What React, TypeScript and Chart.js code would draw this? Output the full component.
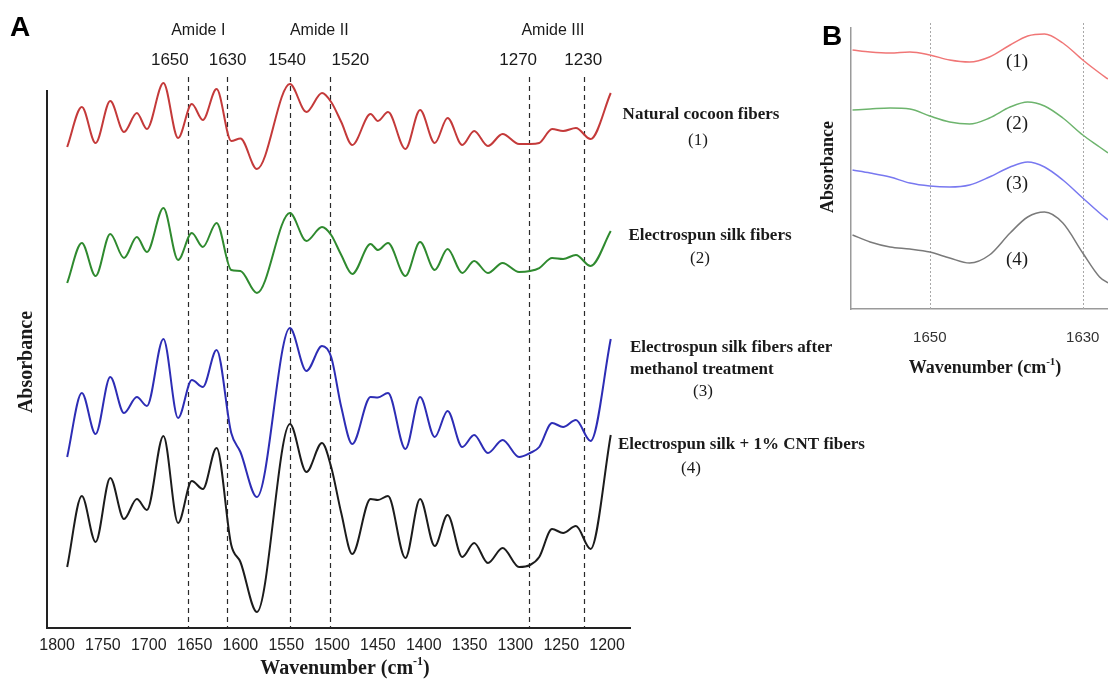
import React, { useEffect, useRef } from "react";
import { Chart, registerables } from "chart.js";

Chart.register(...registerables);

// ---------------- Panel A data ----------------
const wavenumbersA = [1789, 1773, 1758, 1742, 1727, 1713, 1702, 1684, 1668, 1653, 1641, 1626, 1610, 1600, 1582, 1546, 1528, 1511, 1501, 1490, 1478, 1458, 1450, 1439, 1420, 1404, 1388, 1374, 1358, 1345, 1330, 1314, 1296, 1284, 1274, 1260, 1248, 1234, 1218, 1196];
const naturalCocoon = [48.1, 52.1, 48.5, 52.7, 49.6, 51.5, 49.9, 54.5, 49.0, 52.4, 50.8, 53.9, 48.7, 48.95, 45.9, 54.4, 51.6, 53.5, 52.6, 50.6, 48.3, 51.4, 50.7, 51.6, 47.9, 51.8, 48.5, 51.0, 48.3, 49.7, 48.2, 49.4, 48.4, 48.4, 48.5, 49.9, 49.7, 50.0, 48.9, 53.5];
const electrospun = [34.5, 38.5, 35.2, 39.4, 37.0, 39.1, 37.6, 42.0, 36.8, 39.5, 38.1, 40.5, 35.8, 35.7, 33.5, 41.5, 38.7, 40.1, 39.3, 37.3, 35.4, 38.4, 37.8, 38.5, 35.2, 38.6, 35.8, 37.9, 35.5, 36.7, 35.5, 36.5, 35.6, 35.7, 36.0, 37.0, 36.9, 37.3, 36.2, 39.7];
const methanolTreated = [17.1, 23.5, 19.4, 25.1, 21.5, 23.1, 22.2, 28.9, 21.0, 24.8, 24.1, 27.8, 19.5, 17.6, 13.1, 30.0, 25.7, 28.2, 27.1, 22.1, 18.4, 23.1, 23.05, 23.5, 17.9, 23.1, 19.1, 21.7, 18.1, 19.3, 17.5, 18.8, 17.1, 17.5, 18.1, 20.5, 20.1, 20.8, 18.7, 28.9];
const cntFibers = [6.1, 13.2, 8.6, 15.0, 10.9, 12.9, 11.8, 19.2, 10.5, 14.7, 13.9, 18.0, 8.3, 6.6, 1.6, 20.4, 15.6, 18.5, 16.1, 11.5, 7.4, 12.9, 12.8, 13.2, 7.0, 12.9, 8.2, 11.3, 7.1, 8.5, 6.5, 8.0, 6.1, 6.3, 7.1, 9.9, 9.5, 10.2, 7.9, 19.3];
const xTicksA = [1800, 1750, 1700, 1650, 1600, 1550, 1500, 1450, 1400, 1350, 1300, 1250, 1200];

// dashed marker lines (drawn position on the axis) and their labels
const markerPositions = [1657, 1615, 1546, 1502, 1285, 1225];
const markerLabels = ["1650", "1630", "1540", "1520", "1270", "1230"];
const markerLabelAt = [1677, 1614, 1549, 1480, 1297, 1226];
const amideLabels = ["Amide I", "Amide II", "Amide III"];
const amideLabelAt = [1646, 1514, 1259];

const legendLines = [
  { text: "Natural cocoon fibers", x: 701, y: 115, align: "center", bold: true },
  { text: "(1)", x: 698, y: 141, align: "center", bold: false },
  { text: "Electrospun silk fibers", x: 710, y: 236, align: "center", bold: true },
  { text: "(2)", x: 700, y: 259, align: "center", bold: false },
  { text: "Electrospun silk fibers after", x: 630, y: 348, align: "left", bold: true },
  { text: "methanol treatment", x: 630, y: 370, align: "left", bold: true },
  { text: "(3)", x: 703, y: 392, align: "center", bold: false },
  { text: "Electrospun silk + 1% CNT fibers", x: 618, y: 445, align: "left", bold: true },
  { text: "(4)", x: 691, y: 469, align: "center", bold: false },
];

// ---------------- Panel B data ----------------
const wavenumbersB = [1660.1, 1657.8, 1655.2, 1652.6, 1650.0, 1647.4, 1644.8, 1642.2, 1639.5, 1637.2, 1635.0, 1632.6, 1630.0, 1627.8, 1626.7];
const naturalCocoonB = [25.9, 25.7, 25.6, 25.7, 25.4, 24.9, 24.7, 25.2, 26.4, 27.3, 27.5, 26.6, 24.9, 23.6, 23.0];
const electrospunB = [19.9, 20.0, 20.1, 20.0, 19.3, 18.7, 18.5, 19.1, 20.2, 20.7, 20.3, 19.1, 17.4, 16.2, 15.6];
const methanolTreatedB = [13.9, 13.6, 13.2, 12.6, 12.3, 12.2, 12.4, 13.2, 14.2, 14.7, 14.2, 12.9, 11.1, 9.6, 8.9];
const cntFibersB = [7.4, 6.7, 6.2, 6.0, 5.7, 5.1, 4.6, 5.4, 7.6, 9.2, 9.7, 8.6, 5.6, 3.2, 2.6];
const xTicksB = [1650, 1630];
const seriesLabelsB = ["(1)", "(2)", "(3)", "(4)"];
const seriesLabelYB = [62, 124, 184, 260];

const SERIF = '"Liberation Serif", "Times New Roman", serif';
const SANS = '"Liberation Sans", Arial, sans-serif';
const INK = "#1a1a1a";

function txt(ctx: any, s: string, x: number, y: number, font: string, align = "center", color = INK) {
  ctx.font = font;
  ctx.fillStyle = color;
  ctx.textAlign = align;
  ctx.textBaseline = "middle";
  ctx.fillText(s, x, y);
}

function rotatedTxt(ctx: any, s: string, x: number, y: number, font: string) {
  ctx.save();
  ctx.translate(x, y);
  ctx.rotate(-Math.PI / 2);
  txt(ctx, s, 0, 0, font);
  ctx.restore();
}

function wavenumberTitle(ctx: any, cx: number, cy: number, size: number) {
  const main = `bold ${size}px ${SERIF}`;
  const sup = `bold ${Math.round(size * 0.6)}px ${SERIF}`;
  const p1 = "Wavenumber (cm";
  const p2 = "-1";
  const p3 = ")";
  ctx.save();
  ctx.fillStyle = INK;
  ctx.font = main;
  const w1 = ctx.measureText(p1).width;
  const w3 = ctx.measureText(p3).width;
  ctx.font = sup;
  const w2 = ctx.measureText(p2).width;
  let x = cx - (w1 + w2 + w3) / 2;
  const base = cy + size * 0.33;
  ctx.textAlign = "left";
  ctx.textBaseline = "alphabetic";
  ctx.font = main;
  ctx.fillText(p1, x, base);
  x += w1;
  ctx.font = sup;
  ctx.fillText(p2, x, base - size * 0.42);
  x += w2;
  ctx.font = main;
  ctx.fillText(p3, x, base);
  ctx.restore();
}

const pairs = (xs: number[], ys: number[]) => xs.map((x, i) => ({ x, y: ys[i] }));

const panelAPlugin = {
  id: "panelA",
  beforeDatasetsDraw(chart: any) {
    const { ctx, chartArea } = chart;
    const xs = chart.scales.x;
    ctx.save();
    ctx.strokeStyle = "#2a2a2a";
    ctx.lineWidth = 1.2;
    ctx.setLineDash([5, 4]);
    markerPositions.forEach((v) => {
      const px = Math.round(xs.getPixelForValue(v)) + 0.5;
      ctx.beginPath();
      ctx.moveTo(px, 77);
      ctx.lineTo(px, chartArea.bottom);
      ctx.stroke();
    });
    ctx.restore();
  },
  afterDraw(chart: any) {
    const { ctx } = chart;
    const xs = chart.scales.x;
    ctx.save();
    txt(ctx, "A", 20, 28, `bold 28px ${SANS}`, "center", "#000");
    amideLabels.forEach((s, i) => txt(ctx, s, xs.getPixelForValue(amideLabelAt[i]), 31, `16px ${SANS}`));
    markerLabels.forEach((s, i) => txt(ctx, s, xs.getPixelForValue(markerLabelAt[i]), 60, `17px ${SANS}`));
    rotatedTxt(ctx, "Absorbance", 27, 362, `bold 20px ${SERIF}`);
    wavenumberTitle(ctx, 345, 667, 20);
    legendLines.forEach((l) =>
      txt(ctx, l.text, l.x, l.y, `${l.bold ? "bold " : ""}17px ${SERIF}`, l.align)
    );
    ctx.restore();
  },
};

const panelBPlugin = {
  id: "panelB",
  beforeDatasetsDraw(chart: any) {
    const { ctx, chartArea } = chart;
    const xs = chart.scales.x;
    ctx.save();
    ctx.strokeStyle = "#a8a8a8";
    ctx.lineWidth = 1;
    ctx.setLineDash([2, 2]);
    xTicksB.forEach((v) => {
      const px = Math.round(xs.getPixelForValue(v)) + 0.5;
      ctx.beginPath();
      ctx.moveTo(px, 23);
      ctx.lineTo(px, chartArea.bottom);
      ctx.stroke();
    });
    ctx.restore();
  },
  afterDraw(chart: any) {
    const { ctx } = chart;
    const xs = chart.scales.x;
    ctx.save();
    txt(ctx, "B", 32, 37, `bold 28px ${SANS}`, "center", "#000");
    xTicksB.forEach((v) => txt(ctx, String(v), xs.getPixelForValue(v), 338, `15px ${SANS}`, "center", "#333"));
    rotatedTxt(ctx, "Absorbance", 28, 167, `bold 18px ${SERIF}`);
    wavenumberTitle(ctx, 185, 367, 18);
    seriesLabelsB.forEach((s, i) => txt(ctx, s, 217, seriesLabelYB[i], `19px ${SERIF}`));
    ctx.restore();
  },
};

export default function App() {
  const refA = useRef<HTMLCanvasElement>(null);
  const refB = useRef<HTMLCanvasElement>(null);

  useEffect(() => {
    const lineDs = (data: any, color: string, width: number) => ({
      data,
      borderColor: color,
      backgroundColor: color,
      borderWidth: width,
      pointRadius: 0,
      fill: false,
      cubicInterpolationMode: "monotone",
      clip: false,
    });

    const chartA = new Chart(refA.current as HTMLCanvasElement, {
      type: "line",
      data: {
        datasets: [
          lineDs(pairs(wavenumbersA, naturalCocoon), "#c43a3a", 2),
          lineDs(pairs(wavenumbersA, electrospun), "#2f8a2f", 2),
          lineDs(pairs(wavenumbersA, methanolTreated), "#2d2db5", 2),
          lineDs(pairs(wavenumbersA, cntFibers), "#1c1c1c", 2),
        ],
      } as any,
      options: {
        animation: false,
        responsive: false,
        maintainAspectRatio: false,
        layout: { padding: { top: 91, right: 478, left: 0, bottom: 0 } },
        plugins: { legend: { display: false }, tooltip: { enabled: false } },
        scales: {
          x: {
            type: "linear",
            reverse: true,
            min: 1175,
            max: 1811,
            grid: { display: false, drawTicks: false },
            border: { display: true, color: "#222", width: 2 },
            ticks: {
              font: { family: SANS, size: 16 },
              color: "#222",
              padding: 8,
              maxRotation: 0,
              autoSkip: false,
              callback: (v: any) => String(v),
            },
            afterBuildTicks: (s: any) => {
              s.ticks = xTicksA.map((v) => ({ value: v }));
            },
            afterFit: (s: any) => {
              s.height = 54;
            },
          },
          y: {
            type: "linear",
            min: 0,
            max: 53.7,
            grid: { display: false, drawTicks: false },
            border: { display: true, color: "#222", width: 2 },
            ticks: { display: false },
            afterFit: (s: any) => {
              s.width = 47;
            },
          },
        },
      } as any,
      plugins: [panelAPlugin],
    });

    const chartB = new Chart(refB.current as HTMLCanvasElement, {
      type: "line",
      data: {
        datasets: [
          lineDs(pairs(wavenumbersB, naturalCocoonB), "#f07676", 1.5),
          lineDs(pairs(wavenumbersB, electrospunB), "#6db46d", 1.5),
          lineDs(pairs(wavenumbersB, methanolTreatedB), "#7878f0", 1.5),
          lineDs(pairs(wavenumbersB, cntFibersB), "#7a7a7a", 1.5),
        ],
      } as any,
      options: {
        animation: false,
        responsive: false,
        maintainAspectRatio: false,
        layout: { padding: { top: 28, right: 0, left: 0, bottom: 0 } },
        plugins: { legend: { display: false }, tooltip: { enabled: false } },
        scales: {
          x: {
            type: "linear",
            reverse: true,
            min: 1626.7,
            max: 1660.3,
            grid: { display: false, drawTicks: false },
            border: { display: true, color: "#9a9a9a", width: 1.5 },
            ticks: { display: false },
            afterBuildTicks: (s: any) => {
              s.ticks = xTicksB.map((v) => ({ value: v }));
            },
            afterFit: (s: any) => {
              s.height = 81;
            },
          },
          y: {
            type: "linear",
            min: 0,
            max: 28.1,
            grid: { display: false, drawTicks: false },
            border: { display: true, color: "#9a9a9a", width: 1.5 },
            ticks: { display: false },
            afterFit: (s: any) => {
              s.width = 51;
            },
          },
        },
      } as any,
      plugins: [panelBPlugin],
    });

    return () => {
      chartA.destroy();
      chartB.destroy();
    };
  }, []);

  return (
    <div style={{ position: "fixed", left: 0, top: 0, width: 1108, height: 682, background: "#fff" }}>
      <canvas ref={refA} width={1108} height={682} style={{ position: "absolute", left: 0, top: 0 }} />
      <canvas ref={refB} width={308} height={390} style={{ position: "absolute", left: 800, top: 0 }} />
    </div>
  );
}
